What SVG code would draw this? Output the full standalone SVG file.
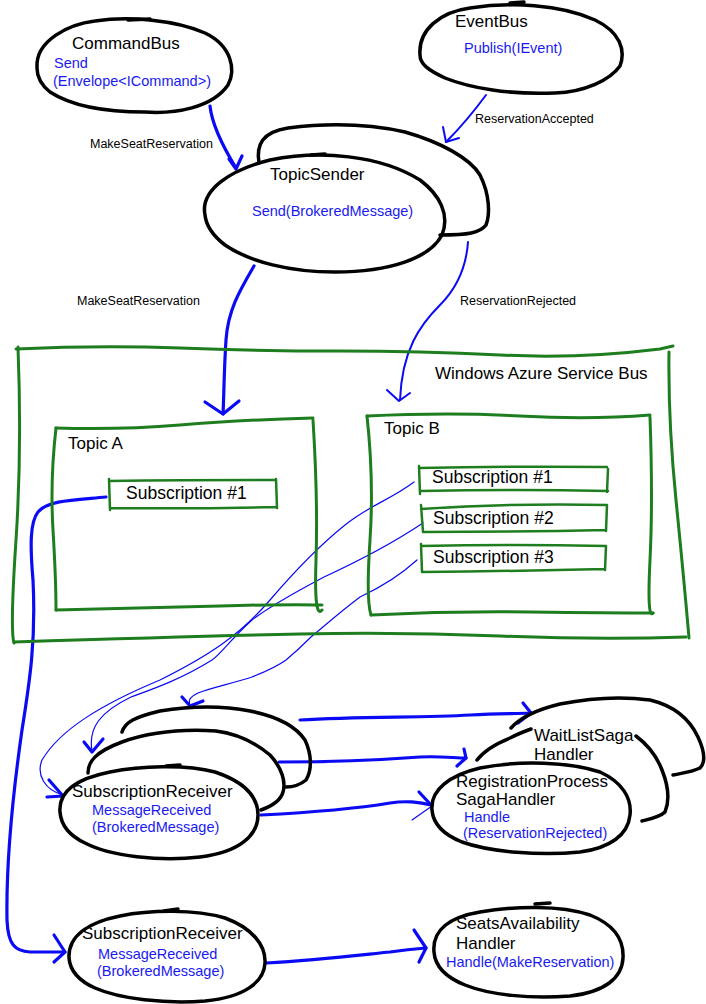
<svg xmlns="http://www.w3.org/2000/svg" width="706" height="1004" viewBox="0 0 706 1004">
<style>
.bg{fill:#fff}
.sh{fill:none;stroke:#000;stroke-width:3.5;stroke-linecap:round;stroke-linejoin:round}
.gr{fill:none;stroke:#1e7d1e;stroke-width:3;stroke-linecap:round;stroke-linejoin:round}
.gs{fill:none;stroke:#1e7d1e;stroke-width:2.5;stroke-linecap:round;stroke-linejoin:round}
.c{fill:none;stroke:#0a0af5;stroke-linecap:round;stroke-linejoin:round}
.w3{stroke-width:3.2}.w2{stroke-width:2}.w1{stroke-width:1.2}
.t{font-family:"Liberation Sans","Noto Sans",sans-serif;fill:#000}
.n{font-size:17px}
.b{font-size:14.5px;fill:#1a1af0}
.l{font-size:12.5px}
.s{font-size:17.5px}
</style>
<rect class="bg" width="706" height="1004"/>

<g id="connectors">
  <path class="c w3" d="M210,106 C212,125 225,150 236,168"/>
  <path class="c w3" d="M229,159 L236,169 L242,156"/>
  <path class="c w2" d="M486,95 C475,110 460,128 446,142"/>
  <path class="c w2" d="M443,127 L446,142 L459,138"/>
  <path class="c w3" d="M254,266 C240,290 228,310 226,340 C224,370 224,395 223,414"/>
  <path class="c w3" d="M205,402 L223,414 L239,401"/>
  <path class="c w2" d="M468,242 C466,270 455,290 440,305 C420,325 402,350 400,400"/>
  <path class="c w2" d="M387,390 L399,401 L410,393"/>
  <path class="c w3" d="M106,497 C75,500 48,500 38,512 C30,522 30,545 33,580 C36,640 30,680 22,730 C12,800 6,860 7,920 C8,945 15,951 30,952 L65,952"/>
  <path class="c w3" d="M54,935 L65,952 L54,962"/>
  <path class="c w1" d="M414,482 C390,500 370,505 345,525 C320,545 300,565 270,600 C240,635 210,655 160,680 C100,705 60,730 42,760 C36,775 45,790 63,795"/>
  <path class="c w3" d="M49,780 L63,796 L47,797"/>
  <path class="c w1" d="M423,523 C390,545 350,565 324,577 C290,595 265,610 252,620 C230,640 220,655 212,660 C180,680 150,690 131,697 C100,712 88,728 92,751"/>
  <path class="c w3" d="M84,742 L92,752 L103,739"/>
  <path class="c w1" d="M417,560 C395,580 375,590 360,597 C340,612 322,628 311,637 C300,648 292,655 286,660 C275,668 262,673 252,677 C230,684 210,688 198,693 C190,697 188,700 190,705"/>
  <path class="c w3" d="M182,697 L190,706 L203,701"/>
  <path class="c w3" d="M300,720 C360,716 420,718 470,715 C500,713 515,714 531,713"/>
  <path class="c w3" d="M523,703 L531,713 L518,723"/>
  <path class="c w3" d="M279,762 C330,762 380,760 420,757 C440,756 455,758 466,758"/>
  <path class="c w3" d="M464,749 L466,758 L457,766"/>
  <path class="c w3" d="M261,815 C320,812 360,808 390,803 C410,800 420,803 432,805"/>
  <path class="c w3" d="M419,792 L432,806"/>
  <path class="c w1" d="M432,806 L412,820"/>
  <path class="c w3" d="M266,963 C320,960 360,955 390,952 C405,950 415,949 426,948"/>
  <path class="c w3" d="M414,930 L426,948 L419,962"/>
  <text class="t l" x="90" y="148">MakeSeatReservation</text>
  <text class="t l" x="475" y="123">ReservationAccepted</text>
  <text class="t l" x="77" y="305">MakeSeatReservation</text>
  <text class="t l" x="460" y="305">ReservationRejected</text>
</g>

<g id="commandbus">
  <path class="sh" d="M37,68 C35,40 70,24 95,21 C130,16 175,20 205,33 C232,46 236,70 228,85 C212,108 175,114 145,112 C100,112 70,105 50,92 C40,84 37,76 37,68 Z"/>
  <path class="sh" d="M128,20 L150,19"/>
  <text class="t n" x="72" y="49">CommandBus</text>
  <text class="t b" x="54" y="68">Send</text>
  <text class="t b" x="53" y="86">(Envelope&lt;ICommand&gt;)</text>
</g>

<g id="eventbus">
  <path class="sh" d="M420,55 C418,30 440,12 470,8 C510,2 560,4 595,20 C620,32 626,50 620,66 C610,80 585,92 555,93 C510,95 470,88 445,78 C428,70 420,64 420,55 Z"/>
  <path class="sh" d="M510,3 L524,2"/>
  <text class="t n" x="455" y="27">EventBus</text>
  <text class="t b" x="464" y="53">Publish(IEvent)</text>
</g>

<g id="topicsender">
  <path class="sh" d="M259,163 C256,145 262,132 288,128 C320,124 360,122 405,132 C440,142 470,158 480,175 C490,195 490,215 486,225 C480,233 468,235 440,235"/>
  <path class="sh" fill="#fff" d="M205,215 C200,190 230,170 270,160 C320,150 380,155 420,180 C440,195 450,215 442,235 C430,258 390,272 335,272 C290,272 250,262 225,245 C212,235 206,225 205,215 Z"/>
  <path class="sh" d="M311,155 L325,154"/>
  <text class="t n" x="270" y="180">TopicSender</text>
  <text class="t b" x="252" y="216">Send(BrokeredMessage)</text>
</g>

<g id="azure">
  <path class="gr" d="M16,349 Q100,345 180,348 T340,351 T500,355 T660,349 L673,346"/>
  <path class="gr" d="M669,352 Q668,420 676,500 T689,638"/>
  <path class="gr" d="M686,637 Q600,640 500,636 T300,634 T14,642"/>
  <path class="gr" d="M18,347 Q22,450 16,540 T14,643"/>
  <text class="t n" x="435" y="379">Windows Azure Service Bus</text>
</g>

<g id="topicA">
  <path class="gr" d="M56,428 Q120,430 180,425 T313,418"/>
  <path class="gr" d="M313,420 Q318,500 316,560 T322,610"/>
  <path class="gr" d="M56,610 Q150,608 220,606 T322,605"/>
  <path class="gr" d="M56,428 Q50,480 53,530 T56,610"/>
  <text class="t n" x="68" y="449">Topic A</text>
</g>

<g id="topicA-sub1">
  <path class="gs" d="M109,481 Q190,480 276,480 M276,479 L277,508 M276,507 Q190,509 110,508 M110,510 L109,479"/>
  <text class="t s" x="126" y="499">Subscription #1</text>
</g>

<g id="topicB">
  <path class="gr" d="M367,416 Q450,412 520,416 T650,415"/>
  <path class="gr" d="M650,417 Q653,500 650,560 T653,613"/>
  <path class="gr" d="M371,615 Q450,611 530,612 T653,613"/>
  <path class="gr" d="M367,416 Q374,480 370,540 T371,615"/>
  <text class="t n" x="384" y="434">Topic B</text>
</g>

<g id="topicB-sub1">
  <path class="gs" d="M419,468 Q510,466 607,467 M608,469 L607,492 M608,491 Q520,489 421,491 M420,494 L419,466"/>
  <text class="t s" x="432" y="483">Subscription #1</text>
</g>
<g id="topicB-sub2">
  <path class="gs" d="M421,509 Q510,503 607,505 M607,505 L606,531 M606,530 Q520,532 423,532 M423,532 L421,505"/>
  <text class="t s" x="433" y="524">Subscription #2</text>
</g>
<g id="topicB-sub3">
  <path class="gs" d="M421,546 Q510,544 606,546 M606,546 L605,570 M605,569 Q520,571 422,572 M422,572 L421,544"/>
  <text class="t s" x="433" y="563">Subscription #3</text>
</g>

<g id="subreceiver1">
  <path class="sh" d="M122,732 C125,722 135,717 160,711 C190,706 220,705 250,711 C275,716 295,725 305,740 C312,755 312,770 306,780 C300,785 292,787 286,787"/>
  <path class="sh" d="M88,773 C88,762 95,752 122,742 C150,732 185,729 216,731 C240,734 258,745 270,755 C282,768 286,782 283,792 C281,800 272,806 261,810"/>
  <path class="sh" fill="#fff" d="M60,812 C58,790 80,778 110,772 C140,766 185,764 215,772 C245,782 258,797 258,815 C258,835 240,852 200,857 C160,862 110,856 85,843 C68,835 61,825 60,812 Z"/>
  <path class="sh" d="M166,766 L180,765"/>
  <text class="t n" x="72" y="797">SubscriptionReceiver</text>
  <text class="t b" x="92" y="815">MessageReceived</text>
  <text class="t b" x="92" y="832">(BrokeredMessage)</text>
</g>

<g id="handlers">
  <path class="sh" d="M511,728 C520,718 535,710 560,704 C590,698 620,696 650,700 C675,706 690,720 698,737 C704,750 706,762 700,768 C692,772 683,773 673,775"/>
  <path class="sh" d="M477,760 C483,752 495,744 510,738 C518,734 525,731 531,729"/>
  <path class="sh" d="M636,736 C648,745 657,757 662,770 C668,785 670,800 665,812 C660,817 650,819 642,821"/>
  <text class="t n" x="534" y="741">WaitListSaga</text>
  <text class="t n" x="534" y="760">Handler</text>
  <path class="sh" d="M432,810 C430,790 450,775 480,768 C520,760 570,762 600,772 C622,782 632,798 630,815 C628,835 610,848 580,852 C540,856 490,852 462,842 C442,834 433,822 432,810 Z"/>
  <text class="t n" x="456" y="787">RegistrationProcess</text>
  <text class="t n" x="456" y="805">SagaHandler</text>
  <text class="t b" x="464" y="822">Handle</text>
  <text class="t b" x="463" y="838">(ReservationRejected)</text>
</g>

<g id="subreceiver2">
  <path class="sh" d="M69,958 C68,935 90,922 120,916 C150,910 195,909 225,918 C252,928 266,945 265,963 C264,982 245,997 205,1001 C165,1004 120,999 95,988 C77,980 70,970 69,958 Z"/>
  <path class="sh" d="M164,911 L178,909"/>
  <text class="t n" x="82" y="939">SubscriptionReceiver</text>
  <text class="t b" x="98" y="959">MessageReceived</text>
  <text class="t b" x="97" y="976">(BrokeredMessage)</text>
</g>

<g id="seats">
  <path class="sh" d="M434,952 C432,930 450,917 480,912 C515,906 560,905 590,915 C615,925 624,940 623,958 C622,978 605,992 570,996 C530,999 490,995 465,985 C445,977 435,965 434,952 Z"/>
  <path class="sh" d="M535,904 L550,903"/>
  <text class="t n" x="456" y="929">SeatsAvailability</text>
  <text class="t n" x="456" y="949">Handler</text>
  <text class="t b" x="446" y="967">Handle(MakeReservation)</text>
</g>
</svg>
